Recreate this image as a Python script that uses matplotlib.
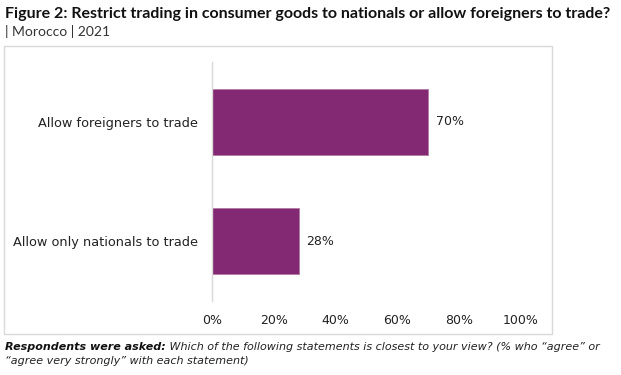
import matplotlib
matplotlib.use("Agg")
import matplotlib.pyplot as plt
from matplotlib.patches import Rectangle

categories = ["Allow only nationals to trade", "Allow foreigners to trade"]
values = [28, 70]
xticks = [0, 20, 40, 60, 80, 100]
xticklabels = ["0%", "20%", "40%", "60%", "80%", "100%"]

title = "Figure 2: Restrict trading in consumer goods to nationals or allow foreigners to trade?"
subtitle = "| Morocco | 2021"
note_bold = "Respondents were asked:"
note_rest = " Which of the following statements is closest to your view? (% who \u201cagree\u201d or"
note_line2 = "\u201cagree very strongly\u201d with each statement)"

plt.rcParams['font.family'] = ['DejaVu Sans']
W, H = 621, 375
fig = plt.figure(figsize=(W/100, H/100), dpi=100)

bar_color = "#832873"
text_color = "#222222"

# frame
fig.patches.append(Rectangle((4/W, 1 - 334/H), (552-4)/W, (334-46)/H,
                             transform=fig.transFigure, fill=False,
                             edgecolor="#d9d9d9", linewidth=1.0))

ax = fig.add_axes([212/W, 1 - 301/H, (521-212)/W, (301-62)/H])
ax.barh(range(len(categories)), values, height=0.55, color=bar_color,
        edgecolor="#b07aa6", linewidth=0.6)
ax.set_xlim(0, 100)
ax.set_ylim(-0.5, 1.5)
ax.set_xticks(xticks)
ax.set_xticklabels(xticklabels, fontsize=9, color=text_color)
ax.set_yticks(range(len(categories)))
ax.set_yticklabels(categories, fontsize=9.3, color=text_color)
ax.tick_params(axis='both', length=0)
ax.tick_params(axis='x', pad=9)
ax.tick_params(axis='y', pad=10)
for s in ["top", "right", "bottom"]:
    ax.spines[s].set_visible(False)
ax.spines["left"].set_color("#d9d9d9")
ax.spines["left"].set_linewidth(1.0)
for i, v in enumerate(values):
    ax.text(v + 2.6, i, f"{v}%", va="center", ha="left", fontsize=9, color=text_color)

fig.canvas.draw()
renderer = fig.canvas.get_renderer()

def fit(t, target_px):
    w = t.get_window_extent(renderer).width
    t.set_fontsize(t.get_fontsize() * target_px / w)

tt = fig.text(5/W, 1 - 14/H, title, fontsize=10, fontweight="bold", color="#111111",
              va="center", ha="left", family="Lato")
fit(tt, 607)
ts = fig.text(5/W, 1 - 31/H, subtitle, fontsize=10, color="#333333", va="center",
              ha="left", family="Lato")
fit(ts, 105)

fs = 8.3
t1 = fig.text(5/W, 1 - 347/H, note_bold, fontsize=fs, fontweight="bold", style="italic",
              color="#111111", va="center", ha="left")
t2 = fig.text(0, 1 - 347/H, note_rest, fontsize=fs, style="italic", color="#222222",
              va="center", ha="left")
total = t1.get_window_extent(renderer).width + t2.get_window_extent(renderer).width
fs = fs * (599 - 5) / total
t1.set_fontsize(fs)
t2.set_fontsize(fs)
fig.canvas.draw()
bb = t1.get_window_extent(renderer)
t2.set_x(bb.x1 / W)
fig.text(5/W, 1 - 361/H, note_line2, fontsize=fs, style="italic", color="#222222",
         va="center", ha="left")

fig.savefig("out.png", dpi=100)
